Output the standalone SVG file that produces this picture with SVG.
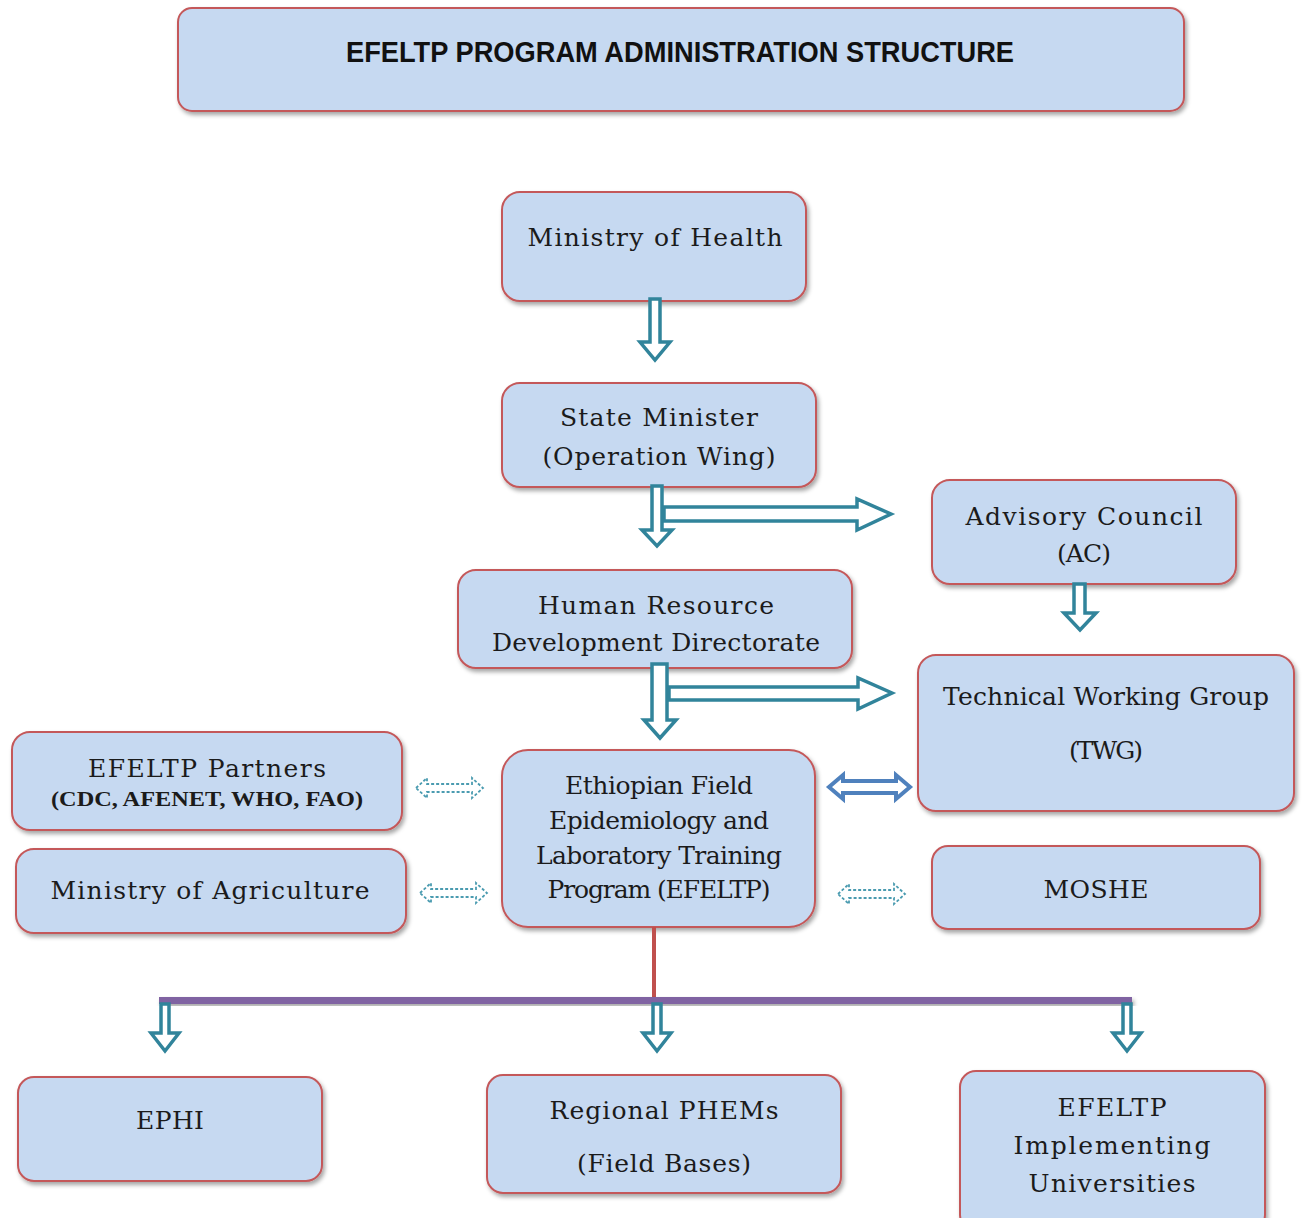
<svg xmlns="http://www.w3.org/2000/svg" width="1303" height="1218" viewBox="0 0 1303 1218">
<style>
.box{fill:#c6d9f1;stroke:#c4585a;stroke-width:2;filter:url(#sh)}
.t{font-family:"DejaVu Serif","Liberation Serif",serif;font-size:25px;fill:#1b1b1b;text-anchor:middle}
.tb{font-family:"Liberation Serif","DejaVu Serif",serif;font-size:21px;font-weight:bold;fill:#1b1b1b;text-anchor:middle}
.title{font-family:"Liberation Sans","Open Sans",sans-serif;font-size:29px;font-weight:bold;fill:#111;text-anchor:middle}
.blk{fill:#fff;stroke:#31849b;stroke-width:3.5;stroke-linejoin:miter}
.dash{fill:#fff;stroke:#4a9bb0;stroke-width:1.8;stroke-dasharray:3 2}
.dbl{fill:#fff;stroke:#4f81bd;stroke-width:4}
</style>
<defs>
<filter id="sh" x="-5%" y="-5%" width="115%" height="125%">
<feDropShadow dx="2" dy="3" stdDeviation="2" flood-color="#000" flood-opacity="0.35"/>
</filter>
</defs>

<g id="title">
<rect class="box" x="178" y="8" width="1006" height="103" rx="14"/>
<text class="title" x="680" y="62" textLength="668" lengthAdjust="spacingAndGlyphs">EFELTP PROGRAM ADMINISTRATION STRUCTURE</text>
</g>

<g id="moh">
<rect class="box" x="502" y="192" width="304" height="109" rx="18"/>
<text class="t" x="655" y="246" textLength="255" lengthAdjust="spacing">Ministry of Health</text>
</g>

<g id="state-minister">
<rect class="box" x="502" y="383" width="314" height="104" rx="18"/>
<text class="t" x="659" y="426" textLength="198" lengthAdjust="spacing">State Minister</text>
<text class="t" x="659" y="465" textLength="233" lengthAdjust="spacing">(Operation Wing)</text>
</g>

<g id="advisory-council">
<rect class="box" x="932" y="480" width="304" height="104" rx="18"/>
<text class="t" x="1084" y="525" textLength="237" lengthAdjust="spacing">Advisory Council</text>
<text class="t" x="1084" y="562" textLength="54" lengthAdjust="spacing">(AC)</text>
</g>

<g id="hrdd">
<rect class="box" x="458" y="570" width="394" height="98" rx="18"/>
<text class="t" x="656" y="614" textLength="236" lengthAdjust="spacing">Human Resource</text>
<text class="t" x="656" y="651" textLength="328" lengthAdjust="spacing">Development Directorate</text>
</g>

<g id="twg">
<rect class="box" x="918" y="655" width="376" height="156" rx="18"/>
<text class="t" x="1106" y="705" textLength="326" lengthAdjust="spacing">Technical Working Group</text>
<text class="t" x="1106" y="759" textLength="74" lengthAdjust="spacing">(TWG)</text>
</g>

<g id="partners">
<rect class="box" x="12" y="732" width="390" height="98" rx="18"/>
<text class="t" x="207" y="777" textLength="238" lengthAdjust="spacing">EFELTP Partners</text>
<text class="tb" x="207" y="806" textLength="312" lengthAdjust="spacingAndGlyphs">(CDC, AFENET, WHO, FAO)</text>
</g>

<g id="moa">
<rect class="box" x="16" y="849" width="390" height="84" rx="18"/>
<text class="t" x="210" y="899" textLength="319" lengthAdjust="spacing">Ministry of Agriculture</text>
</g>

<g id="efeltp">
<rect class="box" x="502" y="750" width="313" height="177" rx="26"/>
<text class="t" x="659" y="794" textLength="188" lengthAdjust="spacing">Ethiopian Field</text>
<text class="t" x="659" y="829" textLength="220" lengthAdjust="spacing">Epidemiology and</text>
<text class="t" x="659" y="864" textLength="246" lengthAdjust="spacing">Laboratory Training</text>
<text class="t" x="659" y="898" textLength="223" lengthAdjust="spacing">Program (EFELTP)</text>
</g>

<g id="moshe">
<rect class="box" x="932" y="846" width="328" height="83" rx="16"/>
<text class="t" x="1096" y="898" textLength="105" lengthAdjust="spacing">MOSHE</text>
</g>

<g id="ephi">
<rect class="box" x="18" y="1077" width="304" height="104" rx="16"/>
<text class="t" x="170" y="1129" textLength="68" lengthAdjust="spacing">EPHI</text>
</g>

<g id="regional-phems">
<rect class="box" x="487" y="1075" width="354" height="118" rx="16"/>
<text class="t" x="664" y="1119" textLength="229" lengthAdjust="spacing">Regional PHEMs</text>
<text class="t" x="664" y="1172" textLength="174" lengthAdjust="spacing">(Field Bases)</text>
</g>

<g id="universities">
<rect class="box" x="960" y="1071" width="305" height="160" rx="16"/>
<text class="t" x="1112" y="1116" textLength="109" lengthAdjust="spacing">EFELTP</text>
<text class="t" x="1112" y="1154" textLength="197" lengthAdjust="spacing">Implementing</text>
<text class="t" x="1112" y="1192" textLength="167" lengthAdjust="spacing">Universities</text>
</g>

<g id="connectors">
<path class="blk" d="M650,299 L660,299 L660,342 L670,342 L655,360 L640,342 L650,342 Z"/>
<path class="blk" d="M652,486 L662,486 L662,530 L672,530 L657,546 L642,530 L652,530 Z"/>
<path class="blk" d="M664,507 L857,507 L857,499 L891,514 L857,530 L857,521 L664,521 Z"/>
<path class="blk" d="M1074,584 L1085,584 L1085,613 L1096,613 L1080,630 L1064,613 L1074,613 Z"/>
<path class="blk" d="M652,664 L667,664 L667,720 L676,720 L660,738 L644,720 L652,720 Z"/>
<path class="blk" d="M669,687 L858,687 L858,678 L892,693 L858,709 L858,700 L669,700 Z"/>
<path class="dbl" d="M829,787 L843,775 L843,781 L896,781 L896,775 L910,787 L896,799 L896,793 L843,793 L843,799 Z"/>
<path class="dash" d="M416,788 L427,778 L427,784 L472,784 L472,778 L483,788 L472,798 L472,792 L427,792 L427,798 Z"/>
<path class="dash" d="M420,893 L431,883 L431,889 L476,889 L476,883 L487,893 L476,903 L476,897 L431,897 L431,903 Z"/>
<path class="dash" d="M838,894 L849,884 L849,890 L894,890 L894,884 L905,894 L894,904 L894,898 L849,898 L849,904 Z"/>
<line x1="654" y1="927" x2="654" y2="1000" stroke="#c0504d" stroke-width="4"/>
<rect x="159" y="997" width="973" height="7" fill="#8064a2" filter="url(#sh)"/>
<path class="blk" d="M161,1004 L169,1004 L169,1033 L179,1033 L165,1051 L151,1033 L161,1033 Z"/>
<path class="blk" d="M653,1004 L661,1004 L661,1033 L671,1033 L657,1051 L643,1033 L653,1033 Z"/>
<path class="blk" d="M1123,1004 L1131,1004 L1131,1033 L1141,1033 L1127,1051 L1113,1033 L1123,1033 Z"/>
</g>
</svg>
